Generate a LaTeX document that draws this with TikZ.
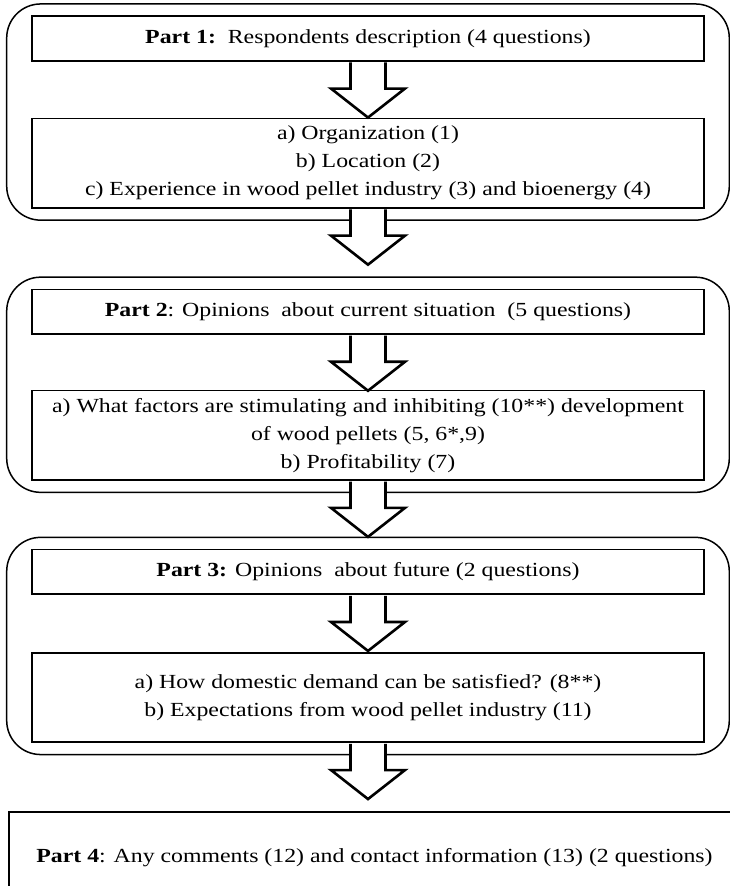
\documentclass[tikz,border=0pt]{standalone}
\usepackage{fontspec}
\setmainfont{Liberation Serif}[FakeStretch=1.19]
\usetikzlibrary{calc}
\usetikzlibrary{positioning}
\usetikzlibrary{fit}
\usetikzlibrary{backgrounds}

\begin{document}
\begin{tikzpicture}[x=1pt, y=1pt, font=\fontsize{20}{28}\selectfont,
    box/.style={draw, line width=1.6pt, fill=white, minimum width=672pt, align=center, inner sep=4pt},
    headbox/.style={box, minimum height=44.5pt},
    bodybox/.style={box, minimum height=89.5pt},
    group/.style={draw, line width=1.5pt, rounded corners=34pt, inner xsep=24.5pt, inner ysep=11.5pt},
    bigarrow/.style={draw, fill=white, line width=2.6pt, line join=miter}]
        \def\shafthw{17.5}  % half width of the arrow shaft
        \def\headhw{37}     % half width of the arrow head
        \def\shaftlen{27pt} % length of the shaft
        \def\arrowlen{56pt} % length of the whole arrow

        % Block arrow from one box towards the next
        \def\blockarrow#1#2{%
            \coordinate (#1-neck) at ($(#1.south)!\shaftlen!(#1.south |- #2.north)$);
            \coordinate (#1-tip) at ($(#1.south)!\arrowlen!(#1.south |- #2.north)$);
            \draw[bigarrow] ($(#1.south)+(-\shafthw,-0.8)$) -- ($(#1-neck)+(-\shafthw,0)$)
                -- ($(#1-neck)+(-\headhw,0)$) -- (#1-tip) -- ($(#1-neck)+(\headhw,0)$)
                -- ($(#1-neck)+(\shafthw,0)$) -- ($(#1.south)+(\shafthw,-0.8)$);
        }

        % Page of the figure
        \clip (0,0) rectangle (730,-886);

        % Part 1
        \node[headbox] (p1head) at (368,-38.5) {\textbf{Part 1:}\ \ Respondents description (4 questions)};
        \node[bodybox, below=56pt of p1head] (p1body) {a) Organization (1)\\ b) Location (2)\\
            c) Experience in wood pellet industry (3) and bioenergy (4)};

        % Part 2
        \node[headbox, below=80pt of p1body] (p2head) {\textbf{Part 2}: Opinions\ \ about current situation\ \ (5 questions)};
        \node[bodybox, below=55pt of p2head] (p2body) {a) What factors are stimulating\ and inhibiting\ (10**) development\\
            of wood pellets (5, 6*,9)\\ b) Profitability\ (7)};

        % Part 3
        \node[headbox, below=68pt of p2body] (p3head) {\textbf{Part 3:} Opinions\ \ about future (2 questions)};
        \node[bodybox, below=57pt of p3head] (p3body) {a) How domestic demand can be satisfied? (8**)\\
            b) Expectations from wood pellet\ industry (11)};

        % Part 4
        \node[box, minimum width=731pt, minimum height=92pt, below=68pt of p3body, xshift=6.5pt] (p4)
            {\textbf{Part 4}: Any comments (12) and contact information (13) (2 questions)};

        % Rounded frames round each part
        \begin{scope}[on background layer]
            \node[group, fit=(p1head)(p1body)] (part1) {};
            \node[group, fit=(p2head)(p2body)] (part2) {};
            \node[group, fit=(p3head)(p3body)] (part3) {};
        \end{scope}

        % Arrows
        \blockarrow{p1head}{p1body}
        \blockarrow{p1body}{p2head}
        \blockarrow{p2head}{p2body}
        \blockarrow{p2body}{p3head}
        \blockarrow{p3head}{p3body}
        \blockarrow{p3body}{p4}

      \end{tikzpicture}
\end{document}
